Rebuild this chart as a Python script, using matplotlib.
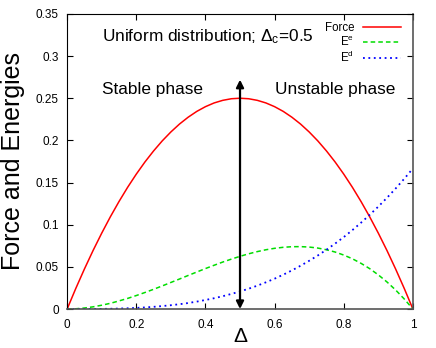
import numpy as np
import matplotlib
matplotlib.use("Agg")
import matplotlib.pyplot as plt

plt.rcParams['font.family'] = ['Liberation Sans', 'DejaVu Sans']
plt.rcParams['mathtext.fontset'] = 'custom'
plt.rcParams['mathtext.rm'] = 'Liberation Sans'
plt.rcParams['mathtext.it'] = 'Liberation Sans'

# values, step 0.025 in Delta
delta = np.linspace(0, 1, 41)
force = [0, 0.0244, 0.0475, 0.0694, 0.09, 0.1094, 0.1275, 0.1444, 0.16, 0.1744,
         0.1875, 0.1994, 0.21, 0.2194, 0.2275, 0.2344, 0.24, 0.2444, 0.2475, 0.2494,
         0.25, 0.2494, 0.2475, 0.2444, 0.24, 0.2344, 0.2275, 0.2194, 0.21, 0.1994,
         0.1875, 0.1744, 0.16, 0.1444, 0.1275, 0.1094, 0.09, 0.0694, 0.0475, 0.0244, 0]
e_e = [0, 0.0003, 0.0012, 0.0026, 0.0045, 0.0068, 0.0096, 0.0126, 0.016, 0.0196,
       0.0234, 0.0274, 0.0315, 0.0356, 0.0398, 0.0439, 0.048, 0.0519, 0.0557, 0.0592,
       0.0625, 0.0655, 0.0681, 0.0703, 0.072, 0.0732, 0.0739, 0.074, 0.0735, 0.0723,
       0.0703, 0.0676, 0.064, 0.0596, 0.0542, 0.0479, 0.0405, 0.0321, 0.0226, 0.0119, 0]
e_d = [0, 0.0, 0.00002, 0.00007, 0.00017, 0.00033, 0.00056, 0.00089, 0.00133, 0.0019,
       0.0026, 0.0035, 0.0045, 0.0057, 0.0071, 0.0088, 0.0107, 0.0128, 0.0152, 0.0179,
       0.0208, 0.0241, 0.0277, 0.0317, 0.036, 0.0407, 0.0458, 0.0513, 0.0572, 0.0635,
       0.0703, 0.0776, 0.0853, 0.0936, 0.1024, 0.1117, 0.1215, 0.1319, 0.1429, 0.1545, 0.1667]

delta_c = 0.5
arrow_top = 0.272

xticks = [0, 0.2, 0.4, 0.6, 0.8, 1]
xticklabels = ['0', '0.2', '0.4', '0.6', '0.8', '1']
yticks = [0, 0.05, 0.1, 0.15, 0.2, 0.25, 0.3, 0.35]
yticklabels = ['0', '0.05', '0.1', '0.15', '0.2', '0.25', '0.3', '0.35']

fig = plt.figure(figsize=(4.36, 3.48), dpi=100)
ax = fig.add_axes([0.154, 0.112, 0.793, 0.848])

ax.plot(delta, force, color='#ff0000', lw=1.1, label='Force')
ax.plot(delta, e_e, color='#00dd00', lw=1.1, dashes=(3, 2), label=r'E$^{\mathrm{e}}$')
ax.plot(delta, e_d, color='#0000ff', lw=1.3, dashes=(1, 2), label=r'E$^{\mathrm{d}}$')

ax.annotate('', xy=(delta_c, arrow_top), xytext=(delta_c, 0),
            arrowprops=dict(arrowstyle='<|-|>', color='black', lw=1.6,
                            mutation_scale=11, shrinkA=0, shrinkB=0))

ax.text(0.1, 0.3225, r'Uniform distribution; $\Delta_{\mathrm{c}}$=0.5', fontsize=12.4,
        va='center', ha='left')
ax.text(0.1, 0.26, 'Stable phase', fontsize=12.4, va='center', ha='left')
ax.text(0.6, 0.26, 'Unstable phase', fontsize=12.4, va='center', ha='left')

ax.set_xlim(0, 1)
ax.set_ylim(0, 0.35)
ax.set_xticks(xticks)
ax.set_xticklabels(xticklabels)
ax.set_yticks(yticks)
ax.set_yticklabels(yticklabels)
ax.tick_params(direction='in', top=True, right=True, length=4, labelsize=8.5, pad=6)
ax.tick_params(axis='x', pad=7)

ax.set_xlabel('Δ', fontsize=15, labelpad=-3)
ax.set_ylabel('Force and Energies', fontsize=18, labelpad=8)

for s in ['right', 'bottom']:
    ax.spines[s].set_color('#555555')
    ax.spines[s].set_linewidth(1.2)

leg = ax.legend(loc='upper right', frameon=False, markerfirst=False, fontsize=8.3,
                handlelength=3.3, labelspacing=0.1, borderaxespad=0.3,
                handletextpad=0.8, bbox_to_anchor=(0.99, 1.0))

fig.savefig('out.png', dpi=100)
